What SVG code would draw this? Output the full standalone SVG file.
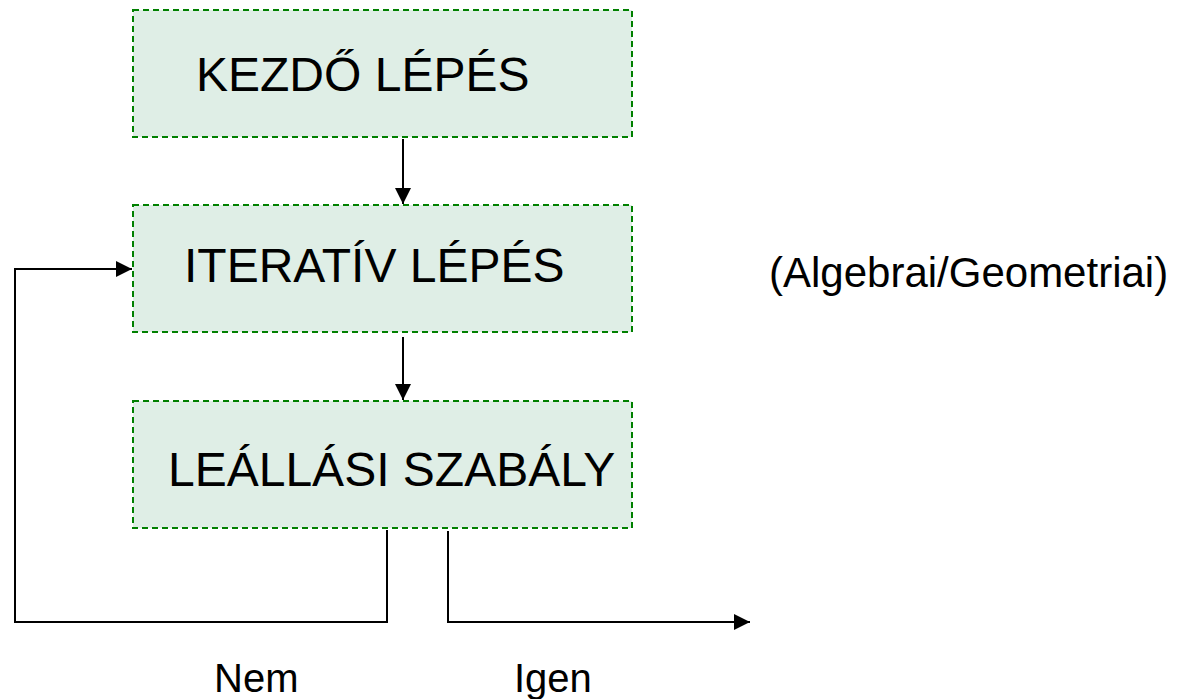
<svg xmlns="http://www.w3.org/2000/svg" width="1180" height="699" viewBox="0 0 1180 699">
<defs>
<style>
.box{fill:#dfeee6;stroke:#008000;stroke-width:2;stroke-dasharray:6,4}
.t{font-family:"Liberation Sans",Arial,sans-serif;fill:#000}
.big{font-size:48px}
.lbl{font-size:40px}
.c{fill:none;stroke:#000;stroke-width:2}
</style>
<marker id="ahL" viewBox="0 0 10 10" refX="10" refY="5" markerWidth="16" markerHeight="16" markerUnits="userSpaceOnUse" orient="auto">
<path d="M0,0 L10,5 L0,10 z" fill="#000"/>
</marker>
</defs>
<rect width="1180" height="699" fill="#fff"/>
<g id="n1"><rect class="box" x="133" y="10" width="499" height="127"/><text class="t big" x="196" y="91">KEZDŐ LÉPÉS</text></g>
<g id="n2"><rect class="box" x="133" y="205" width="499" height="127"/><text class="t big" x="184" y="282">ITERATÍV LÉPÉS</text></g>
<g id="n3"><rect class="box" x="133" y="401" width="499" height="127"/><text class="t big" x="168" y="486">LEÁLLÁSI SZABÁLY</text></g>
<g id="labels">
<text class="t" font-size="42" x="769" y="287">(Algebrai/Geometriai)</text>
<text class="t lbl" x="214" y="692">Nem</text>
<text class="t lbl" x="514" y="692">Igen</text>
</g>
<g id="connectors">
<path class="c" d="M403,139 V204" marker-end="url(#ahL)"/>
<path class="c" d="M403,337 V400" marker-end="url(#ahL)"/>
<path class="c" d="M387,530 V622 H15 V269 H132" marker-end="url(#ahL)"/>
<path class="c" d="M448,531 V622 H750" marker-end="url(#ahL)"/>
</g>
</svg>
